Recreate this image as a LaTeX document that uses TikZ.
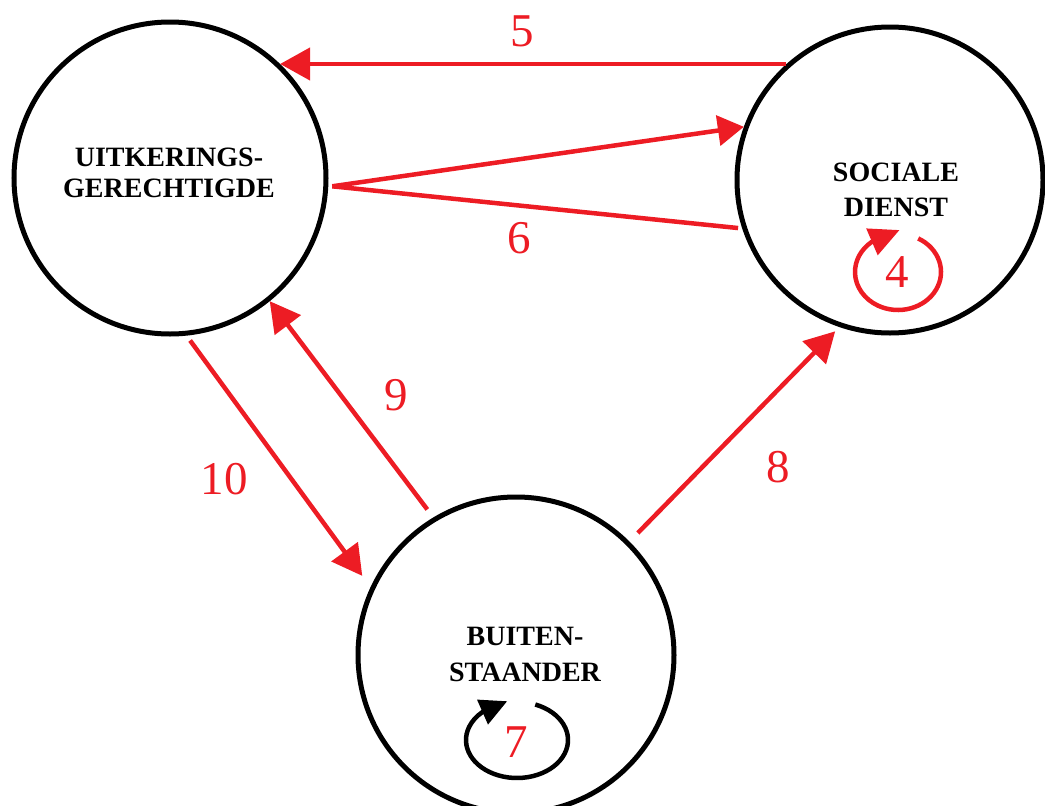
\documentclass[tikz,border=0pt]{standalone}
\usepackage{fontspec}
\setmainfont{Liberation Serif}
\usetikzlibrary{arrows.meta}
\definecolor{pred}{RGB}{237,28,36}
\begin{document}
\begin{tikzpicture}[x=1pt,y=-1pt,
  statebox/.style={circle,draw=black,line width=5pt,minimum size=312pt,inner sep=0pt},
  statetext/.style={font=\fontsize{28}{31}\selectfont\bfseries,align=center,inner sep=0pt},
  rarrow/.style={draw=pred,line width=4.5pt,-{Triangle[length=30pt,width=32pt]}},
  rline/.style={draw=pred,line width=4.5pt},
  num/.style={text=pred,font=\fontsize{47}{47}\selectfont,inner sep=0pt},
  loopred/.style={draw=pred,line width=4.5pt,-{Triangle[length=30pt,width=28pt]}},
  loopblack/.style={draw=black,line width=4.5pt,-{Triangle[length=27pt,width=26pt]}}]
\useasboundingbox (0,0) rectangle (1045,806);
% states
\node[statebox] (ug) at (170,178) {};
\node[statebox,minimum size=306pt] (sd) at (890,180) {};
\node[statebox,minimum size=316pt] (bs) at (516,655) {};
\node[statetext] (ugt) at (169,173) {UITKERINGS-\\GERECHTIGDE};
\node[statetext,font=\fontsize{28}{35}\selectfont\bfseries] (sdt) at (896,190) {SOCIALE\\DIENST};
\node[statetext,font=\fontsize{28}{36}\selectfont\bfseries] (bst) at (525,654) {BUITEN-\\STAANDER};
% edge 5
\draw[rarrow] (sd.132 |- ug.46) -- (ug.46);
\node[num] (n5) at (522,31) {5};
% edges 6
\coordinate (m6) at ([xshift=4pt]ug.-3);
\draw[rarrow,-{Triangle[length=26pt,width=30pt]}] (m6) -- (sd.160);
\draw[rline] (m6) -- ([xshift=-4pt]sd.198);
\node[num] (n6) at (519,238) {6};
% edge 9
\draw[rarrow,shorten <=10pt] (bs.121) -- (ug.-51);
\node[num] (n9) at (396,395) {9};
% edge 10
\draw[rarrow,shorten <=6pt,shorten >=14pt] (ug.-84) -- (bs.155);
\node[num] (n10) at (224,479) {10};
% edge 8
\draw[rarrow,shorten <=12pt,shorten >=6pt] (bs.45.5) -- (sd.-109);
\node[num] (n8) at (778,467) {8};
% loop 4
\coordinate (c4) at (898,272);
\draw[loopred] ([shift={(-62:43 and 38)}]c4) arc[start angle=-62,end angle=232,x radius=43,y radius=38] -- ++(28,-12);
\node[num] (n4) at (897,272) {4};
% loop 7
\coordinate (c7) at (517,740);
\draw[loopblack] ([shift={(-69:51 and 38)}]c7) arc[start angle=-69,end angle=227,x radius=51,y radius=38] -- ++(25,-11);
\node[num] (n7) at (516,742) {7};
\end{tikzpicture}
\end{document}
